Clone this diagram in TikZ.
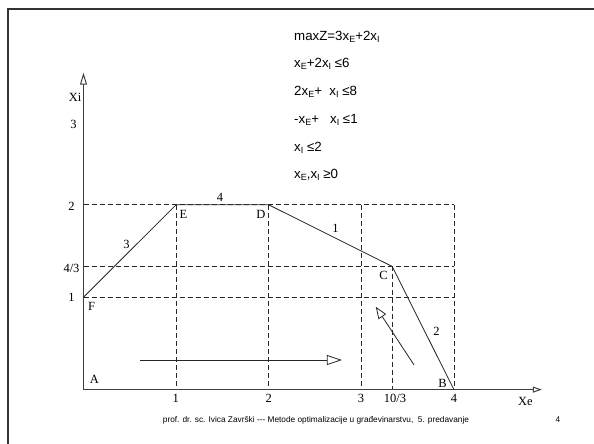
\documentclass[tikz,border=0pt]{standalone}
\usepackage{fontspec}
\setmainfont{Liberation Serif}
\newfontfamily\lpsans{Liberation Sans}
\usetikzlibrary{arrows.meta}
\newcommand\lpsub[1]{\raisebox{-0.35ex}{\fontsize{9}{9}\selectfont #1}}
\tikzset{
  frame/.style={draw=black!80, line width=2.6pt},
  axis/.style={draw=black!75, line width=1pt},
  grid/.style={draw=black!85, line width=0.8pt, dash pattern=on 5pt off 3pt},
  edge/.style={draw=black!85, line width=0.8pt},
  lbl/.style={inner sep=0pt, font=\fontsize{12.5}{12.5}\selectfont},
  eq/.style={anchor=west, inner sep=0pt, font=\lpsans\fontsize{13.3}{15}\selectfont},
  foot/.style={inner sep=0pt, font=\lpsans\fontsize{8.3}{9}\selectfont},
}
\begin{document}
\begin{tikzpicture}[x=1pt,y=1pt]
\useasboundingbox (0,0) rectangle (594,444);
% frame
\coordinate (ftl) at (8,435);
\coordinate (ftr) at (594,435);
\coordinate (fbl) at (8,0);
\draw[frame] (ftr) -- (ftl) -- (fbl);
% equations
\node[eq] (e1) at (294,444-37) {maxZ=3x\lpsub{E}+2x\lpsub{I}};
\node[eq] (e2) at (294,444-64) {x\lpsub{E}+2x\lpsub{I} ≤6};
\node[eq] (e3) at (294,444-92) {2x\lpsub{E}+\ \ x\lpsub{I} ≤8};
\node[eq] (e4) at (294,444-120) {-x\lpsub{E}+\ \ \ x\lpsub{I} ≤1};
\node[eq] (e5) at (294,444-148) {x\lpsub{I} ≤2};
\node[eq] (e6) at (294,444-175) {x\lpsub{E},x\lpsub{I} ≥0};
% footer
\node[foot] (ft) at (316,444-420) {prof. dr. sc. Ivica Završki --- Metode optimalizacije u građevinarstvu,\ \ 5. predavanje};
\node[foot] (pg) at (558,444-420) {4};
\begin{scope}[shift={(83.5,54.4)}, x=92.6pt, y=92.4pt]
  \coordinate (A) at (0,0);
  \coordinate (F) at (0,1);
  \coordinate (E) at (1,2);
  \coordinate (D) at (2,2);
  \coordinate (C) at (10/3,4/3);
  \coordinate (B) at (4,0);
  \coordinate (ytop) at (0,3.43);
  \coordinate (xend) at (4.95,0);
  \coordinate (y2) at (0,2);
  \coordinate (y43) at (0,4/3);
  \coordinate (x2r) at (4,2);
  \coordinate (x43r) at (4,4/3);
  \coordinate (x1r) at (4,1);
  \coordinate (x1t) at (1,2); \coordinate (x1b) at (1,0);
  \coordinate (x2t) at (2,2); \coordinate (x2b) at (2,0);
  \coordinate (x3t) at (3,2); \coordinate (x3b) at (3,0);
  \coordinate (x103b) at (10/3,0);
  \coordinate (x4t) at (4,2);
  \coordinate (h1) at (0.61,0.32);
  \coordinate (h2) at (2.79,0.32);
  \coordinate (g1) at (3.569,0.268);
  \coordinate (g2) at (3.156,0.897);
  % grid
  \draw[grid] (y2) -- (x2r);
  \draw[grid] (y43) -- (x43r);
  \draw[grid] (F) -- (x1r);
  \draw[grid] (x1t) -- (x1b);
  \draw[grid] (x2t) -- (x2b);
  \draw[grid] (x3t) -- (x3b);
  \draw[grid] (C) -- (x103b);
  \draw[grid] (x4t) -- (B);
  % axes
  \draw[axis, -{Triangle[open, length=12pt, width=7pt]}] (A) -- (ytop);
  \draw[axis, -{Triangle[open, length=9pt, width=6pt]}] (A) -- (xend);
  % feasible region boundary
  \draw[edge] (F) -- (E) -- (D) -- (C) -- (B);
  % arrows
  \draw[edge, -{Triangle[open, length=15pt, width=10pt]}] (h1) -- (h2);
  \draw[edge, -{Triangle[open, length=12pt, width=9pt]}] (g1) -- (g2);
\end{scope}
% edge labels
\node[lbl] (l3) at (126.5,444-244) {3};
\node[lbl] (l4) at (220,444-197.5) {4};
\node[lbl] (l1) at (335.5,444-228) {1};
\node[lbl] (l2) at (436.5,444-331.5) {2};
% labels
\node[lbl] (lXi) at (75,444-97.5) {Xi};
\node[lbl] (lY3) at (73.5,444-124) {3};
\node[lbl] (lY2) at (71.5,444-206) {2};
\node[lbl] (lY43) at (71.5,444-268) {4/3};
\node[lbl] (lY1) at (71.5,444-297.5) {1};
\node[lbl] (lF) at (91.5,444-306) {F};
\node[lbl] (lE) at (183.5,444-214.5) {E};
\node[lbl] (lD) at (261,444-214) {D};
\node[lbl] (lC) at (383.5,444-275) {C};
\node[lbl] (lA) at (94.5,444-379) {A};
\node[lbl] (lB) at (442.5,444-383) {B};
\node[lbl] (lX1) at (175.7,444-398) {1};
\node[lbl] (lX2) at (268.7,444-398) {2};
\node[lbl] (lX3) at (361,444-398) {3};
\node[lbl] (lX103) at (395,444-398) {10/3};
\node[lbl] (lX4) at (454,444-398) {4};
\node[lbl] (lXe) at (525.5,444-401) {Xe};
\end{tikzpicture}
\end{document}
